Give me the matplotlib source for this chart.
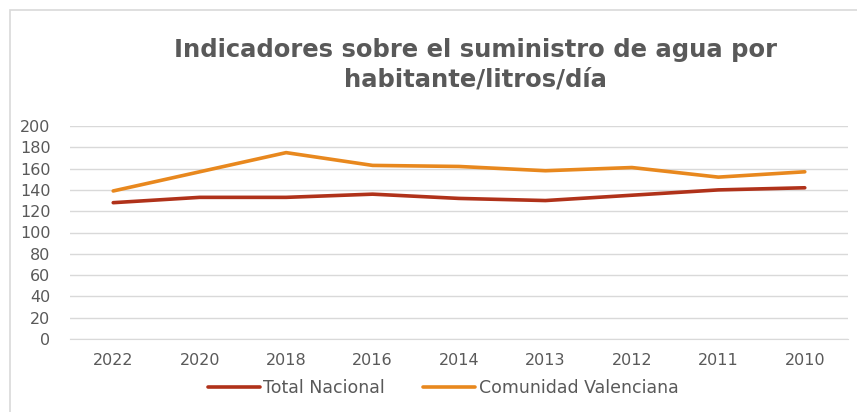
import matplotlib.pyplot as plt
from matplotlib.patches import Rectangle

# -----------------------------
# DATA
# -----------------------------
years = ["2022", "2020", "2018", "2016", "2014", "2013", "2012", "2011", "2010"]
total_nacional = [128, 133, 133, 136, 132, 130, 135, 140, 142]
comunidad_valenciana = [139, 157, 175, 163, 162, 158, 161, 152, 157]

TEXT = "#595959"
GRID = "#D9D9D9"
RED = "#B0321A"
ORANGE = "#E8881E"

fig = plt.figure(figsize=(8.57, 4.12), dpi=100)
fig.patch.set_facecolor("white")

# outer chart border (only top/left visible in the crop)
fig.patches.append(Rectangle((10 / 857, -0.1), 1.2, 1 - 10 / 412 + 0.1,
                             transform=fig.transFigure, fill=False,
                             edgecolor=GRID, linewidth=1.2))

ax = fig.add_axes([70 / 857, 1 - 339 / 412, 778 / 857, 213 / 412])
x = range(len(years))
ax.plot(x, total_nacional, color=RED, linewidth=2.6, label="Total Nacional",
        solid_capstyle="round")
ax.plot(x, comunidad_valenciana, color=ORANGE, linewidth=2.6,
        label="Comunidad Valenciana", solid_capstyle="round")

ax.set_xlim(-0.5, len(years) - 0.5)
ax.set_ylim(0, 200)
ax.set_yticks(range(0, 201, 20))
ax.set_xticks(list(x))
ax.set_xticklabels(years)
ax.grid(axis="y", color=GRID, linewidth=1)
ax.set_axisbelow(True)
for s in ["top", "right", "left"]:
    ax.spines[s].set_visible(False)
ax.spines["bottom"].set_color(GRID)
ax.tick_params(axis="both", length=0, colors=TEXT, labelsize=11.5)
ax.tick_params(axis="x", pad=10)
ax.tick_params(axis="y", pad=14)

fig.text(475 / 857, 1 - 65 / 412, "Indicadores sobre el suministro de agua por\nhabitante/litros/día",
         ha="center", va="center", fontsize=17.5, fontweight="bold", color=TEXT,
         linespacing=1.3)

fig.legend(loc="center", bbox_to_anchor=(443 / 857, 1 - 388 / 412), ncol=2,
           frameon=False, fontsize=12.5, labelcolor=TEXT, handlelength=3,
           handletextpad=0.2, columnspacing=2.2)

fig.savefig("out.png", dpi=100)
